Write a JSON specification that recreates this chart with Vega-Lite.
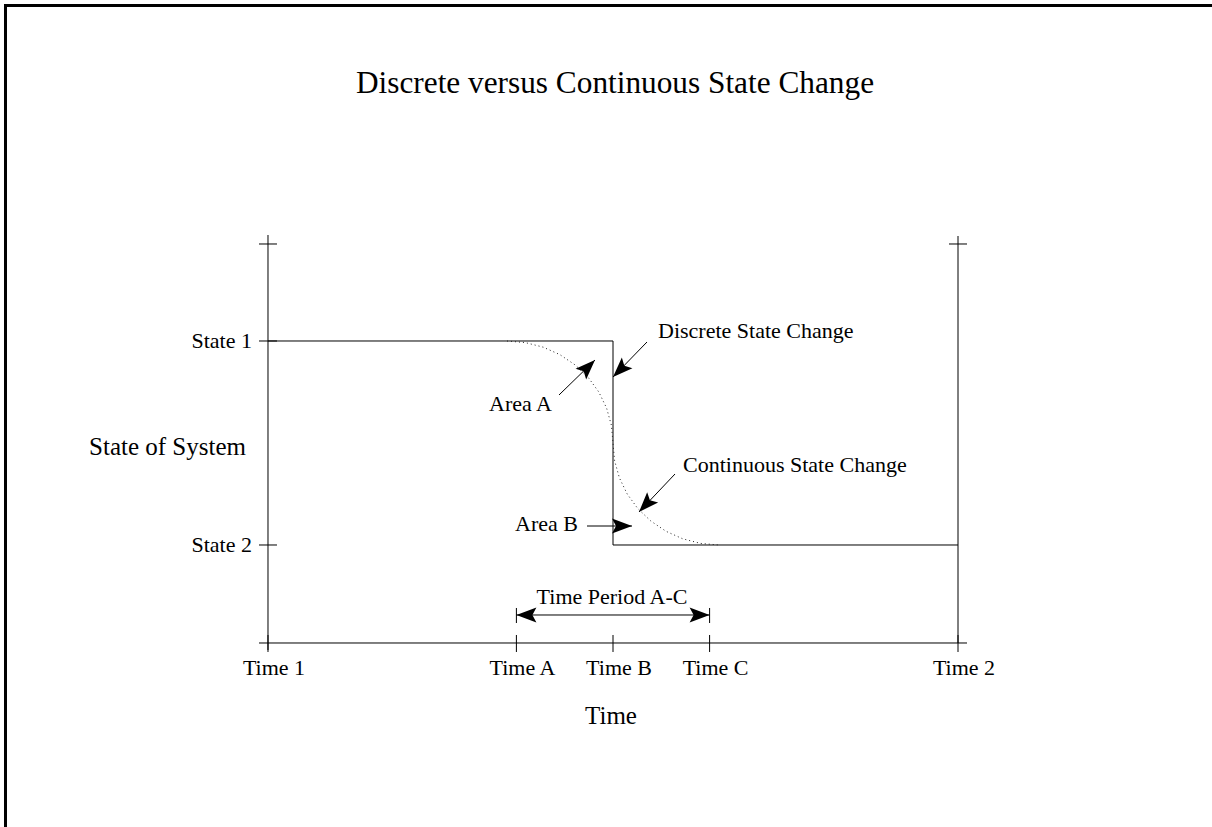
{
  "$schema": "https://vega.github.io/schema/vega-lite/v6.json",
  "width": 1212,
  "height": 827,
  "padding": 0,
  "autosize": {"type": "none", "contains": "padding"},
  "background": "white",
  "config": {"view": {"stroke": null}},
  "datasets": {
    "segments": [
      {"part": "y axis", "x": 0, "y": 0.4853, "x2": 0, "y2": 2.5196},
      {"part": "y axis top cross", "x": -0.1304, "y": 2.4755, "x2": 0.1304, "y2": 2.4755},
      {"part": "time 2 line", "x": 10, "y": 0.5196, "x2": 10, "y2": 2.5147},
      {"part": "time 2 top cross", "x": 9.8696, "y": 2.4755, "x2": 10.1304, "y2": 2.4755},
      {"part": "x axis", "x": -0.1304, "y": 0.5196, "x2": 10.1304, "y2": 0.5196},
      {"part": "state 1 tick", "x": -0.1304, "y": 2, "x2": 0.1304, "y2": 2},
      {"part": "state 2 tick", "x": -0.1304, "y": 1, "x2": 0.1304, "y2": 1},
      {"part": "time 1 tick", "x": 0, "y": 0.4755, "x2": 0, "y2": 0.5588},
      {"part": "time A tick", "x": 3.6, "y": 0.4755, "x2": 3.6, "y2": 0.5588},
      {"part": "time B tick", "x": 5, "y": 0.4755, "x2": 5, "y2": 0.5588},
      {"part": "time C tick", "x": 6.4, "y": 0.4755, "x2": 6.4, "y2": 0.5588},
      {"part": "time 2 tick", "x": 10, "y": 0.4755, "x2": 10, "y2": 0.5588},
      {"part": "state 1 level", "x": 0, "y": 2, "x2": 5, "y2": 2},
      {"part": "discrete drop", "x": 5, "y": 2, "x2": 5, "y2": 1},
      {"part": "state 2 level", "x": 5, "y": 1, "x2": 10, "y2": 1},
      {"part": "period bar A", "x": 3.6, "y": 0.6176, "x2": 3.6, "y2": 0.6912},
      {"part": "period bar C", "x": 6.4, "y": 0.6176, "x2": 6.4, "y2": 0.6912},
      {"part": "period line", "x": 3.6, "y": 0.6569, "x2": 6.4, "y2": 0.6569},
      {"part": "discrete arrow", "x": 5.4928, "y": 1.9951, "x2": 5.0, "y2": 1.8235},
      {"part": "area A arrow", "x": 4.2174, "y": 1.7353, "x2": 4.7391, "y2": 1.9069},
      {"part": "continuous arrow", "x": 5.8986, "y": 1.348, "x2": 5.3768, "y2": 1.1618},
      {"part": "area B arrow", "x": 4.6232, "y": 1.0931, "x2": 5.2754, "y2": 1.0931}
    ],
    "heads": [
      {"x": 5.0, "y": 1.8235, "angle": 135},
      {"x": 4.7391, "y": 1.9069, "angle": 315},
      {"x": 5.3768, "y": 1.1618, "angle": 133},
      {"x": 5.2754, "y": 1.0931, "angle": 0},
      {"x": 3.6, "y": 0.6569, "angle": 180},
      {"x": 6.4, "y": 0.6569, "angle": 0}
    ],
    "curve": [
      {"i": 0, "x": 3.4638, "y": 2.0},
      {"i": 1, "x": 3.7304, "y": 1.9922},
      {"i": 2, "x": 3.9899, "y": 1.9696},
      {"i": 3, "x": 4.2319, "y": 1.9328},
      {"i": 4, "x": 4.4507, "y": 1.8828},
      {"i": 5, "x": 4.6406, "y": 1.8216},
      {"i": 6, "x": 4.7942, "y": 1.75},
      {"i": 7, "x": 4.9072, "y": 1.6711},
      {"i": 8, "x": 4.9768, "y": 1.5868},
      {"i": 9, "x": 5.0, "y": 1.5},
      {"i": 10, "x": 5.0232, "y": 1.4132},
      {"i": 11, "x": 5.0928, "y": 1.3289},
      {"i": 12, "x": 5.2058, "y": 1.25},
      {"i": 13, "x": 5.3594, "y": 1.1784},
      {"i": 14, "x": 5.5493, "y": 1.1172},
      {"i": 15, "x": 5.7681, "y": 1.0672},
      {"i": 16, "x": 6.0101, "y": 1.0304},
      {"i": 17, "x": 6.2696, "y": 1.0078},
      {"i": 18, "x": 6.5362, "y": 1.0}
    ],
    "frame": [
      {"x": -3.8043, "y": 3.6446, "x2": 14.957, "y2": -0.7402}
    ]
  },
  "layer": [
    {
      "data": {"name": "frame"},
      "mark": {"type": "rect", "fill": null, "stroke": "black", "strokeWidth": 3, "clip": false},
      "encoding": {
        "x": {"field": "x", "type": "quantitative", "axis": null, "scale": {"domain": [-3.884, 13.681], "nice": false, "zero": false}},
        "x2": {"field": "x2"},
        "y": {"field": "y", "type": "quantitative", "axis": null, "scale": {"domain": [-0.3824, 3.6716], "nice": false, "zero": false}},
        "y2": {"field": "y2"}
      }
    },
    {
      "data": {"name": "segments"},
      "mark": {"type": "rule", "color": "black", "strokeWidth": 1},
      "encoding": {
        "x": {"field": "x", "type": "quantitative", "axis": null, "scale": {"domain": [-3.884, 13.681], "nice": false, "zero": false}},
        "x2": {"field": "x2"},
        "y": {"field": "y", "type": "quantitative", "axis": null, "scale": {"domain": [-0.3824, 3.6716], "nice": false, "zero": false}},
        "y2": {"field": "y2"}
      }
    },
    {
      "data": {"name": "curve"},
      "mark": {"type": "line", "color": "#222222", "strokeWidth": 1, "strokeDash": [1, 3]},
      "encoding": {
        "x": {"field": "x", "type": "quantitative", "axis": null, "scale": {"domain": [-3.884, 13.681], "nice": false, "zero": false}},
        "y": {"field": "y", "type": "quantitative", "axis": null, "scale": {"domain": [-0.3824, 3.6716], "nice": false, "zero": false}},
        "order": {"field": "i", "type": "quantitative"}
      }
    },
    {
      "data": {"name": "heads"},
      "mark": {"type": "point", "shape": "M0,0 L-2,-0.75 L-1.6,0 L-2,0.75 Z", "size": 400, "filled": true, "color": "black", "opacity": 1},
      "encoding": {
        "x": {"field": "x", "type": "quantitative", "axis": null, "scale": {"domain": [-3.884, 13.681], "nice": false, "zero": false}},
        "y": {"field": "y", "type": "quantitative", "axis": null, "scale": {"domain": [-0.3824, 3.6716], "nice": false, "zero": false}},
        "angle": {"field": "angle", "type": "quantitative", "scale": null}
      }
    },
    {
      "data": {"values": [{"label": "Discrete versus Continuous State Change", "x": 5.029, "y": 3.262}]},
      "mark": {"type": "text", "font": "Liberation Serif", "fontSize": 31.3, "align": "center", "baseline": "middle", "color": "black"},
      "encoding": {
        "x": {"field": "x", "type": "quantitative", "axis": null, "scale": {"domain": [-3.884, 13.681], "nice": false, "zero": false}},
        "y": {"field": "y", "type": "quantitative", "axis": null, "scale": {"domain": [-0.3824, 3.6716], "nice": false, "zero": false}},
        "text": {"field": "label"}
      }
    },
    {
      "data": {"values": [
        {"label": "State of System", "x": -1.4565, "y": 1.4804},
        {"label": "Time", "x": 4.971, "y": 0.1618}
      ]},
      "mark": {"type": "text", "font": "Liberation Serif", "fontSize": 25, "align": "center", "baseline": "middle", "color": "black"},
      "encoding": {
        "x": {"field": "x", "type": "quantitative", "axis": null, "scale": {"domain": [-3.884, 13.681], "nice": false, "zero": false}},
        "y": {"field": "y", "type": "quantitative", "axis": null, "scale": {"domain": [-0.3824, 3.6716], "nice": false, "zero": false}},
        "text": {"field": "label"}
      }
    },
    {
      "data": {"values": [
        {"label": "State 1", "x": -0.2319, "y": 2},
        {"label": "State 2", "x": -0.2319, "y": 1},
        {"label": "Area A", "x": 4.1159, "y": 1.6912},
        {"label": "Area B", "x": 4.4928, "y": 1.1029}
      ]},
      "mark": {"type": "text", "font": "Liberation Serif", "fontSize": 22, "align": "right", "baseline": "middle", "color": "black"},
      "encoding": {
        "x": {"field": "x", "type": "quantitative", "axis": null, "scale": {"domain": [-3.884, 13.681], "nice": false, "zero": false}},
        "y": {"field": "y", "type": "quantitative", "axis": null, "scale": {"domain": [-0.3824, 3.6716], "nice": false, "zero": false}},
        "text": {"field": "label"}
      }
    },
    {
      "data": {"values": [
        {"label": "Discrete State Change", "x": 5.6522, "y": 2.049},
        {"label": "Continuous State Change", "x": 6.0145, "y": 1.3922}
      ]},
      "mark": {"type": "text", "font": "Liberation Serif", "fontSize": 22, "align": "left", "baseline": "middle", "color": "black"},
      "encoding": {
        "x": {"field": "x", "type": "quantitative", "axis": null, "scale": {"domain": [-3.884, 13.681], "nice": false, "zero": false}},
        "y": {"field": "y", "type": "quantitative", "axis": null, "scale": {"domain": [-0.3824, 3.6716], "nice": false, "zero": false}},
        "text": {"field": "label"}
      }
    },
    {
      "data": {"values": [
        {"label": "Time 1", "x": 0.087, "y": 0.397},
        {"label": "Time A", "x": 3.687, "y": 0.397},
        {"label": "Time B", "x": 5.087, "y": 0.397},
        {"label": "Time C", "x": 6.487, "y": 0.397},
        {"label": "Time 2", "x": 10.087, "y": 0.397},
        {"label": "Time Period A-C", "x": 4.9855, "y": 0.7451}
      ]},
      "mark": {"type": "text", "font": "Liberation Serif", "fontSize": 22, "align": "center", "baseline": "middle", "color": "black"},
      "encoding": {
        "x": {"field": "x", "type": "quantitative", "axis": null, "scale": {"domain": [-3.884, 13.681], "nice": false, "zero": false}},
        "y": {"field": "y", "type": "quantitative", "axis": null, "scale": {"domain": [-0.3824, 3.6716], "nice": false, "zero": false}},
        "text": {"field": "label"}
      }
    }
  ]
}
